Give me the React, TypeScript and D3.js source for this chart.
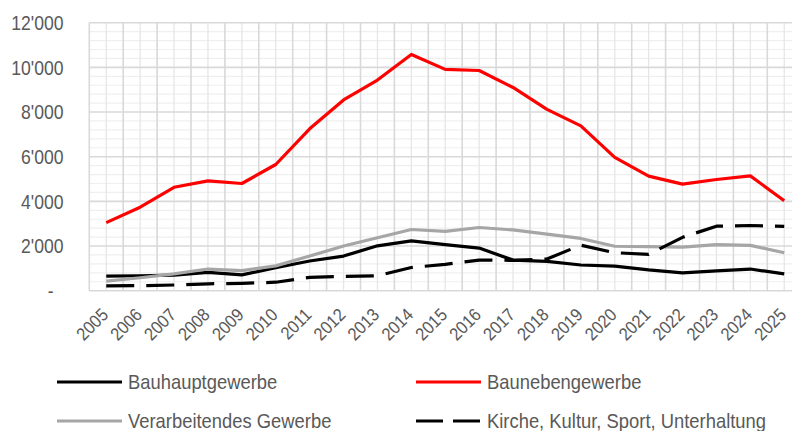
import React from 'react';
import * as d3 from 'd3';

const years = ['2005', '2006', '2007', '2008', '2009', '2010', '2011', '2012', '2013', '2014', '2015',
    '2016', '2017', '2018', '2019', '2020', '2021', '2022', '2023', '2024', '2025'];

const bauhaupt = [650, 670, 700, 820, 710, 1030, 1330, 1550, 2010, 2230, 2060, 1910, 1370, 1310, 1150, 1100, 930, 800, 890, 970, 750];
const bauneben = [3050, 3740, 4630, 4920, 4800, 5650, 7250, 8540, 9430, 10580, 9910, 9860, 9100, 8120, 7380, 5970, 5130, 4770, 4980, 5140, 4030];
const verarbeitend = [430, 580, 750, 970, 900, 1110, 1550, 2000, 2370, 2740, 2660, 2830, 2720, 2530, 2340, 1990, 1970, 1950, 2060, 2030, 1700];
const kirche = [220, 225, 255, 310, 330, 380, 600, 640, 670, 1040, 1180, 1370, 1360, 1420, 2040, 1700, 1630, 2390, 2890, 2920, 2880];

const yTicks = [0, 2000, 4000, 6000, 8000, 10000, 12000];
const seriesNames = ['Bauhauptgewerbe', 'Baunebengewerbe', 'Verarbeitendes Gewerbe', 'Kirche, Kultur, Sport, Unterhaltung'];

const W = 792;
const H = 431;
const margin = { top: 22.7, left: 89.3, bottom: 140.3 };
const band = 33.9;
const textColor = '#595959';
const font = '"Liberation Sans", Arial, sans-serif';

const series = [
    { name: seriesNames[0], values: bauhaupt, color: '#000000', dash: null },
    { name: seriesNames[1], values: bauneben, color: '#ff0000', dash: null },
    { name: seriesNames[2], values: verarbeitend, color: '#a6a6a6', dash: null },
    { name: seriesNames[3], values: kirche, color: '#000000', dash: '28,12' },
];

const fmt = (v: number) => v === 0 ? '-' : d3.format(',')(v).replace(/,/g, "'");

export default function App() {
    const x = d3.scaleBand<string>()
        .domain(years)
        .range([margin.left, margin.left + band * years.length])
        .padding(0);
    const y = d3.scaleLinear()
        .domain([0, 12000])
        .range([H - margin.bottom, margin.top]);

    const x0 = x.range()[0];
    const x1 = x.range()[1];
    const minorY = d3.range(0, 12001, 400).filter(v => v % 2000 !== 0);

    const line = d3.line<number>()
        .x((d, i) => (x(years[i]) as number) + x.bandwidth() / 2)
        .y(d => y(d));

    // legend layout: 2 columns x 2 rows
    const legendCols = [57, 416];
    const legendRows = [382, 421];

    return (
        <svg width={W} height={H} style={{ position: 'absolute', left: 0, top: 0, background: '#fff' }}
            fontFamily={font}>
            {/* minor horizontal grid */}
            {minorY.map(v => (
                <line key={'mh' + v} x1={x0} x2={x1} y1={y(v)} y2={y(v)} stroke="#efefef" strokeWidth={1.2} />
            ))}
            {/* minor vertical grid (category centers) */}
            {years.map(yr => (
                <line key={'mv' + yr} x1={(x(yr) as number) + x.bandwidth() / 2} x2={(x(yr) as number) + x.bandwidth() / 2}
                    y1={y(12000)} y2={y(0)} stroke="#e6e6e6" strokeWidth={1.3} />
            ))}
            {/* major horizontal grid */}
            {yTicks.map(v => (
                <line key={'h' + v} x1={x0} x2={x1} y1={y(v)} y2={y(v)} stroke="#d9d9d9" strokeWidth={1.6} />
            ))}
            {/* major vertical grid (category boundaries) */}
            {years.concat(['end']).map((yr, i) => {
                const px = x0 + i * x.bandwidth();
                return <line key={'v' + yr} x1={px} x2={px} y1={y(12000)} y2={y(0)} stroke="#d9d9d9" strokeWidth={1.6} />;
            })}

            {/* y labels */}
            {yTicks.map(v => (
                <text key={'yl' + v} transform={`translate(${v === 0 ? 53.5 : 63.5},${y(v)}) scale(0.88,1)`}
                    textAnchor="end" dy="0.36em" fontSize={20} fill={textColor}>{fmt(v)}</text>
            ))}

            {/* x labels */}
            {years.map(yr => (
                <text key={'xl' + yr}
                    transform={`translate(${(x(yr) as number) + x.bandwidth() / 2 + 3},316) rotate(-45) scale(0.9,1)`}
                    textAnchor="end" fontSize={18} fill={textColor}>{yr}</text>
            ))}

            {/* series */}
            {series.map(s => (
                <path key={s.name} d={line(s.values) as string} fill="none" stroke={s.color}
                    strokeWidth={3.2} strokeDasharray={s.dash ?? undefined} strokeLinejoin="round" />
            ))}

            {/* legend */}
            {series.map((s, i) => {
                const lx = legendCols[i % 2];
                const ly = legendRows[Math.floor(i / 2)];
                return (
                    <g key={'lg' + s.name}>
                        <line x1={lx} x2={lx + 65} y1={ly} y2={ly} stroke={s.color} strokeWidth={3.2}
                            strokeDasharray={s.dash ? '27,10' : undefined} />
                        <text transform={`translate(${lx + 71},${ly}) scale(0.92,1)`} dy="0.36em"
                            fontSize={20} fill={textColor}>{s.name}</text>
                    </g>
                );
            })}
        </svg>
    );
}
